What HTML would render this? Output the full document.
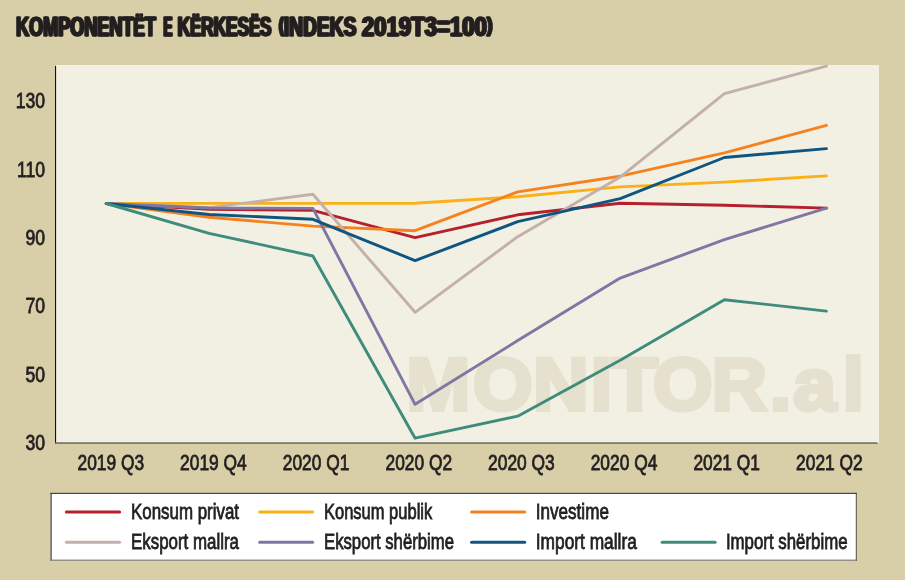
<!DOCTYPE html>
<html lang="sq"><head><meta charset="utf-8"><title>Komponentët e kërkesës</title>
<style>
html,body{margin:0;padding:0;background:#d8cfa8;}
body{width:905px;height:580px;overflow:hidden;}
svg{display:block;will-change:transform;}
text{font-family:"Liberation Sans",sans-serif;fill:#231f20;}
.t{font-weight:bold;font-size:27px;stroke:#231f20;stroke-width:0.8px;stroke-linejoin:round;}
.ax{font-size:21.5px;stroke:#231f20;stroke-width:0.8px;}
.lg{font-size:21.5px;stroke:#231f20;stroke-width:0.8px;}
.wm{font-weight:bold;font-size:74px;fill:#e6e1cf;stroke:#e6e1cf;stroke-width:4px;stroke-linejoin:miter;}
.ln{fill:none;stroke-width:2.9;stroke-linecap:round;stroke-linejoin:round;}
</style></head><body>
<svg width="905" height="580" viewBox="0 0 905 580">
<rect x="0" y="0" width="905" height="580" fill="#d8cfa8"/>
<rect x="55" y="65" width="824" height="378" fill="#f2f0e3"/>
<text class="wm" transform="scale(1.040,1)" x="390.7 454.5 512.6 568.0 587.5 628.0 684.1 740.1 762.8 810.0" y="410.3">MONITOR.al</text>
<rect x="55" y="65.8" width="1.1" height="377.9" fill="#111111"/>
<rect x="55" y="442.3" width="822.5" height="1.5" fill="#6a665c"/>
<polyline class="ln" stroke="#b5202c" points="106.2,203.5 209.1,209.3 312.9,210.3 415.1,237.6 517.7,214.8 620.2,203.3 724.4,205.2 826.4,208.1"/>
<polyline class="ln" stroke="#fcb017" points="106.2,203.5 209.1,203.4 312.9,203.4 415.1,203.2 517.7,196.7 620.2,186.9 724.4,182.1 826.4,175.9"/>
<polyline class="ln" stroke="#f5821f" points="106.2,203.5 209.1,217.3 312.9,226.1 415.1,230.7 517.7,191.9 620.2,176.2 724.4,152.9 826.4,125.3"/>
<polyline class="ln" stroke="#c4b0ab" points="106.2,203.5 209.1,207.6 312.9,194.3 415.1,312.3 517.7,236.7 620.2,177.1 724.4,93.6 826.4,66.1"/>
<polyline class="ln" stroke="#7f76a3" points="106.2,203.5 209.1,208.0 312.9,208.4 415.1,404.3 517.7,340.6 620.2,278.1 724.4,239.6 826.4,208.1"/>
<polyline class="ln" stroke="#0f5580" points="106.2,203.5 209.1,214.5 312.9,219.3 415.1,260.6 517.7,221.7 620.2,198.6 724.4,157.5 826.4,148.6"/>
<polyline class="ln" stroke="#3f8b7c" points="106.2,203.5 209.1,233.3 312.9,256.0 415.1,438.2 517.7,416.2 620.2,360.3 724.4,299.7 826.4,311.1"/>
<text id="tw0" class="t" x="16.1" y="36.0" textLength="139.8" lengthAdjust="spacingAndGlyphs">KOMPONENT<tspan font-size="25.5px">Ë</tspan>T</text>
<use href="#tw0" x="-0.90"/><use href="#tw0" x="0.90"/>
<text id="tw1" class="t" x="163.3" y="36.0" textLength="9.1" lengthAdjust="spacingAndGlyphs">E</text>
<use href="#tw1" x="-0.90"/><use href="#tw1" x="0.90"/>
<text id="tw2" class="t" x="177.7" y="36.0" textLength="93.8" lengthAdjust="spacingAndGlyphs">K<tspan font-size="25.5px">Ë</tspan>RKES<tspan font-size="25.5px">Ë</tspan>S</text>
<use href="#tw2" x="-0.90"/><use href="#tw2" x="0.90"/>
<text id="tw3" class="t" x="279.0" y="36.0" textLength="77.4" lengthAdjust="spacingAndGlyphs"><tspan font-size="20.5px" dy="-3.6">(</tspan><tspan dy="3.6">INDEKS</tspan></text>
<use href="#tw3" x="-0.90"/><use href="#tw3" x="0.90"/>
<text id="tw4" class="t" x="361.9" y="36.0" textLength="130.6" lengthAdjust="spacingAndGlyphs">2019T3=100<tspan font-size="20.5px" dy="-3.6">)</tspan></text>
<use href="#tw4" x="-0.90"/><use href="#tw4" x="0.90"/>
<text class="ax" text-anchor="end" transform="translate(45.0,108.2) scale(0.819,1)">130</text>
<text class="ax" text-anchor="end" transform="translate(45.0,176.6) scale(0.819,1)">110</text>
<text class="ax" text-anchor="end" transform="translate(45.0,245.0) scale(0.819,1)">90</text>
<text class="ax" text-anchor="end" transform="translate(45.0,313.4) scale(0.819,1)">70</text>
<text class="ax" text-anchor="end" transform="translate(45.0,381.8) scale(0.819,1)">50</text>
<text class="ax" text-anchor="end" transform="translate(45.0,450.1) scale(0.819,1)">30</text>
<text class="ax" text-anchor="middle" transform="translate(110.8,469.8) scale(0.808,1)">2019 Q3</text>
<text class="ax" text-anchor="middle" transform="translate(213.4,469.8) scale(0.808,1)">2019 Q4</text>
<text class="ax" text-anchor="middle" transform="translate(316.1,469.8) scale(0.808,1)">2020 Q1</text>
<text class="ax" text-anchor="middle" transform="translate(418.8,469.8) scale(0.808,1)">2020 Q2</text>
<text class="ax" text-anchor="middle" transform="translate(521.4,469.8) scale(0.808,1)">2020 Q3</text>
<text class="ax" text-anchor="middle" transform="translate(624.0,469.8) scale(0.808,1)">2020 Q4</text>
<text class="ax" text-anchor="middle" transform="translate(726.7,469.8) scale(0.808,1)">2021 Q1</text>
<text class="ax" text-anchor="middle" transform="translate(829.4,469.8) scale(0.808,1)">2021 Q2</text>
<rect x="50.4" y="493" width="806.4" height="67.7" fill="#ffffff"/>
<rect x="50.3" y="493" width="1.6" height="67.7" fill="#6f6a5e"/>
<rect x="50.3" y="559.6" width="806.5" height="1.2" fill="#7d7a72"/>
<rect x="855.8" y="493" width="1" height="67.8" fill="#4d4942"/>
<rect x="50.3" y="492.8" width="806.5" height="1.1" fill="#3b3636"/>
<line x1="66.4" y1="512.1" x2="119.6" y2="512.1" stroke="#b5202c" stroke-width="3" stroke-linecap="round"/>
<text class="lg" transform="translate(131.0,518.6) scale(0.786,1)">Konsum privat</text>
<line x1="259.7" y1="512.1" x2="312.6" y2="512.1" stroke="#fcb017" stroke-width="3" stroke-linecap="round"/>
<text class="lg" transform="translate(324.0,518.6) scale(0.768,1)">Konsum publik</text>
<line x1="471.6" y1="512.1" x2="524.7" y2="512.1" stroke="#f5821f" stroke-width="3" stroke-linecap="round"/>
<text class="lg" transform="translate(535.8,518.6) scale(0.795,1)">Investime</text>
<line x1="66.4" y1="542.2" x2="119.6" y2="542.2" stroke="#c4b0ab" stroke-width="3" stroke-linecap="round"/>
<text class="lg" transform="translate(131.0,548.7) scale(0.786,1)">Eksport mallra</text>
<line x1="259.7" y1="542.2" x2="312.6" y2="542.2" stroke="#7f76a3" stroke-width="3" stroke-linecap="round"/>
<text class="lg" transform="translate(324.0,548.7) scale(0.777,1)">Eksport shërbime</text>
<line x1="471.6" y1="542.2" x2="524.7" y2="542.2" stroke="#0f5580" stroke-width="3" stroke-linecap="round"/>
<text class="lg" transform="translate(535.8,548.7) scale(0.806,1)">Import mallra</text>
<line x1="662.1" y1="542.2" x2="715.1" y2="542.2" stroke="#3f8b7c" stroke-width="3" stroke-linecap="round"/>
<text class="lg" transform="translate(725.9,548.7) scale(0.784,1)">Import shërbime</text>
</svg>
</body></html>
